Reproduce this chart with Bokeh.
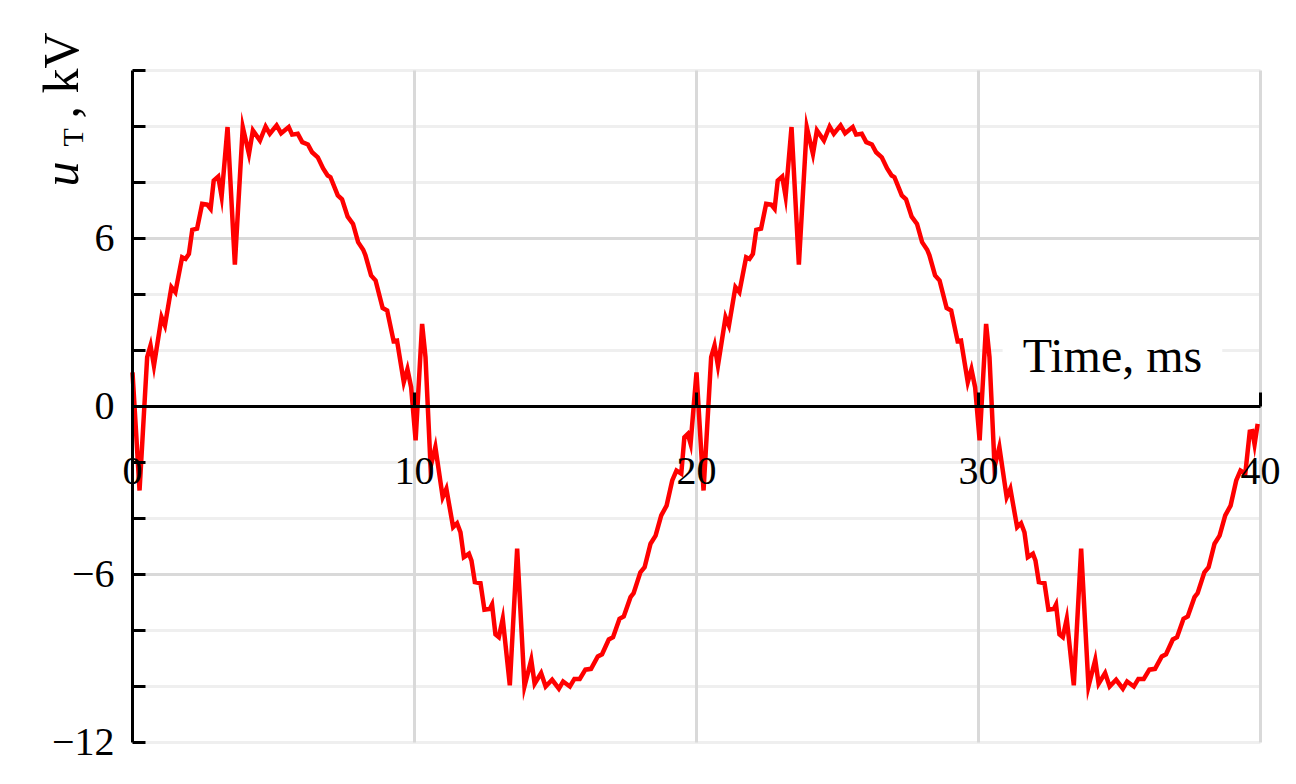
import math
from bokeh.plotting import figure
from bokeh.models import LinearAxis, FixedTicker, Label
from bokeh.embed import file_html
from bokeh.resources import INLINE

# ---- data ----
time_ms = [
    0.00, 0.25, 0.52, 0.64, 0.76, 1.03, 1.15, 1.38, 1.52, 1.76,
    1.88, 2.00, 2.12, 2.29, 2.47, 2.65, 2.77, 2.88, 3.04, 3.16,
    3.37, 3.63, 3.91, 4.13, 4.27, 4.52, 4.72, 4.87, 5.11, 5.27,
    5.54, 5.66, 5.86, 6.02, 6.22, 6.37, 6.57, 6.76, 6.92, 7.02,
    7.28, 7.43, 7.63, 7.82, 8.00, 8.18, 8.26, 8.46, 8.62, 8.87,
    9.03, 9.26, 9.38, 9.62, 9.75, 9.88, 10.04, 10.27, 10.39, 10.57,
    10.74, 11.00, 11.13, 11.37, 11.51, 11.63, 11.75, 11.93, 12.02, 12.14,
    12.34, 12.48, 12.67, 12.75, 12.87, 12.99, 13.13, 13.38, 13.64, 13.90,
    14.14, 14.26, 14.49, 14.65, 14.88, 15.12, 15.27, 15.51, 15.67, 15.86,
    16.06, 16.26, 16.50, 16.65, 16.89, 17.04, 17.27, 17.42, 17.66, 17.77,
    18.01, 18.16, 18.37, 18.55, 18.75, 18.94, 19.14, 19.29, 19.46, 19.57,
    19.69, 19.79,
    20.00, 20.25, 20.52, 20.64, 20.76, 21.03, 21.15, 21.38, 21.52, 21.76,
    21.88, 22.00, 22.12, 22.29, 22.47, 22.65, 22.77, 22.88, 23.04, 23.16,
    23.37, 23.63, 23.91, 24.13, 24.27, 24.52, 24.72, 24.87, 25.11, 25.27,
    25.54, 25.66, 25.86, 26.02, 26.22, 26.37, 26.57, 26.76, 26.92, 27.02,
    27.28, 27.43, 27.63, 27.82, 28.00, 28.18, 28.26, 28.46, 28.62, 28.87,
    29.03, 29.26, 29.38, 29.62, 29.75, 29.88, 30.04, 30.27, 30.39, 30.57,
    30.74, 31.00, 31.13, 31.37, 31.51, 31.63, 31.75, 31.93, 32.02, 32.14,
    32.34, 32.48, 32.67, 32.75, 32.87, 32.99, 33.13, 33.38, 33.64, 33.90,
    34.14, 34.26, 34.49, 34.65, 34.88, 35.12, 35.27, 35.51, 35.67, 35.86,
    36.06, 36.26, 36.50, 36.65, 36.89, 37.04, 37.27, 37.42, 37.66, 37.77,
    38.01, 38.16, 38.37, 38.55, 38.75, 38.94, 39.14, 39.29, 39.46, 39.62,
    39.71, 39.79, 39.90,
]
u_kV = [
    1.22, -3.00, 1.76, 2.18, 1.46, 3.19, 2.89, 4.26, 4.08, 5.33,
    5.27, 5.45, 6.31, 6.35, 7.24, 7.21, 7.06, 8.07, 8.21, 7.50,
    9.98, 5.07, 9.98, 9.02, 9.86, 9.50, 10.00, 9.74, 10.04, 9.76,
    9.98, 9.71, 9.74, 9.44, 9.36, 9.08, 8.90, 8.50, 8.25, 8.19,
    7.54, 7.40, 6.78, 6.52, 5.87, 5.60, 5.40, 4.68, 4.50, 3.52,
    3.43, 2.33, 2.35, 0.87, 1.33, 0.69, -1.21, 2.95, 1.76, -2.15,
    -1.45, -3.24, -2.94, -4.31, -4.17, -4.49, -5.38, -5.26, -5.50, -6.27,
    -6.31, -7.26, -7.23, -7.07, -8.14, -8.24, -7.58, -9.96, -5.08, -10.00,
    -9.05, -9.90, -9.52, -10.00, -9.76, -10.08, -9.82, -10.00, -9.73, -9.73,
    -9.40, -9.37, -8.93, -8.85, -8.32, -8.24, -7.58, -7.50, -6.81, -6.67,
    -5.92, -5.74, -4.90, -4.61, -3.89, -3.54, -2.64, -2.29, -2.40, -1.10,
    -0.98, -1.33,
    1.22, -3.00, 1.76, 2.18, 1.46, 3.19, 2.89, 4.26, 4.08, 5.33,
    5.27, 5.45, 6.31, 6.35, 7.24, 7.21, 7.06, 8.07, 8.21, 7.50,
    9.98, 5.07, 9.98, 9.02, 9.86, 9.50, 10.00, 9.74, 10.04, 9.76,
    9.98, 9.71, 9.74, 9.44, 9.36, 9.08, 8.90, 8.50, 8.25, 8.19,
    7.54, 7.40, 6.78, 6.52, 5.87, 5.60, 5.40, 4.68, 4.50, 3.52,
    3.43, 2.33, 2.35, 0.87, 1.33, 0.69, -1.21, 2.95, 1.76, -2.15,
    -1.45, -3.24, -2.94, -4.31, -4.17, -4.49, -5.38, -5.26, -5.50, -6.27,
    -6.31, -7.26, -7.23, -7.07, -8.14, -8.24, -7.58, -9.96, -5.08, -10.00,
    -9.05, -9.90, -9.52, -10.00, -9.76, -10.08, -9.82, -10.00, -9.73, -9.73,
    -9.40, -9.37, -8.93, -8.85, -8.32, -8.24, -7.58, -7.50, -6.81, -6.67,
    -5.92, -5.74, -4.90, -4.61, -3.89, -3.54, -2.64, -2.29, -2.40, -0.90,
    -0.88, -1.35, -0.62,
]

x_lim = (0, 40)
y_lim = (-12, 12)
x_ticks = [0, 10, 20, 30, 40]
x_grid_ticks = [10, 20, 30, 40]
y_ticks = [-12, -10, -8, -6, -4, -2, 0, 2, 4, 6, 8, 10, 12]
y_tick_labels = {-12: "\u221212", -10: "", -8: "", -6: "\u22126", -4: "", -2: "",
                 0: "0", 2: "", 4: "", 6: "6", 8: "", 10: "", 12: ""}
y_grid_major = [-6, 6]
y_grid_minor = [-12, -10, -8, -4, -2, 2, 4, 8, 10, 12]
x_title = "Time, ms"

FONT = "Liberation Serif"
W, H = 1294, 782
# frame covers the whole canvas; 28.2 px per ms, 28 px per kV
x_view = (-4.681, 41.206)
y_view = (-13.429, 14.5)

p = figure(width=W, height=H, x_range=x_view, y_range=y_view,
           output_backend="svg", toolbar_location=None,
           x_axis_type=None, y_axis_type=None, title=None,
           min_border=0, min_border_left=0, min_border_right=0,
           min_border_top=0, min_border_bottom=0, outline_line_color=None,
           background_fill_color="white", border_fill_color="white")
p.xgrid.visible = False
p.ygrid.visible = False

# grid lines (limited to the data area)
p.segment(x0=[x_lim[0]] * len(y_grid_minor), x1=[x_lim[1]] * len(y_grid_minor),
          y0=y_grid_minor, y1=y_grid_minor, line_color="#efefef", line_width=3,
          level="underlay")
p.segment(x0=[x_lim[0]] * len(y_grid_major), x1=[x_lim[1]] * len(y_grid_major),
          y0=y_grid_major, y1=y_grid_major, line_color="#d9d9d9", line_width=3,
          level="underlay")
p.segment(x0=x_grid_ticks, x1=x_grid_ticks,
          y0=[y_lim[0]] * len(x_grid_ticks), y1=[y_lim[1]] * len(x_grid_ticks),
          line_color="#d9d9d9", line_width=3, level="underlay")

# y axis at x = 0
ya = LinearAxis(fixed_location=0, bounds=y_lim, ticker=FixedTicker(ticks=y_ticks),
                major_label_overrides=y_tick_labels,
                axis_line_width=3, axis_line_color="black",
                major_tick_in=13, major_tick_out=0, major_tick_line_width=3,
                major_tick_line_color="black", minor_tick_line_color=None,
                major_label_standoff=18, major_label_text_font=FONT,
                major_label_text_font_size="40px", major_label_text_color="black")
p.add_layout(ya, "left")

# x axis at y = 0
xa = LinearAxis(fixed_location=0, bounds=x_lim, ticker=FixedTicker(ticks=x_ticks),
                axis_line_width=3, axis_line_color="black",
                major_tick_in=14, major_tick_out=0, major_tick_line_width=3,
                major_tick_line_color="black", minor_tick_line_color=None,
                major_label_standoff=52, major_label_text_font=FONT,
                major_label_text_font_size="40px", major_label_text_color="black")
p.add_layout(xa, "below")

# waveform
p.line(time_ms, u_kV, line_color="#ff0000", line_width=4.5, line_join="miter")

# x title
p.add_layout(Label(x=34.75, y=1.83, text=x_title, text_align="center",
                   text_baseline="alphabetic", text_font=FONT,
                   text_font_size="48px", text_color="black",
                   background_fill_color="white",
                   padding=dict(left=20, right=20, top=2, bottom=2)))

# y title (rotated): u_T, kV
p.add_layout(Label(x=-2.553, y=7.857, text="u", angle=math.pi / 2,
                   text_align="left", text_baseline="alphabetic",
                   text_font=FONT, text_font_style="italic",
                   text_font_size="50px", text_color="black"))
p.add_layout(Label(x=-2.128, y=9.29, text="T", angle=math.pi / 2,
                   text_align="left", text_baseline="alphabetic",
                   text_font=FONT, text_font_size="30px", text_color="black"))
p.add_layout(Label(x=-2.553, y=10.29, text=", kV", angle=math.pi / 2,
                   text_align="left", text_baseline="alphabetic",
                   text_font=FONT, text_font_size="50px", text_color="black"))

open("out.html", "w").write(file_html(p, INLINE))
